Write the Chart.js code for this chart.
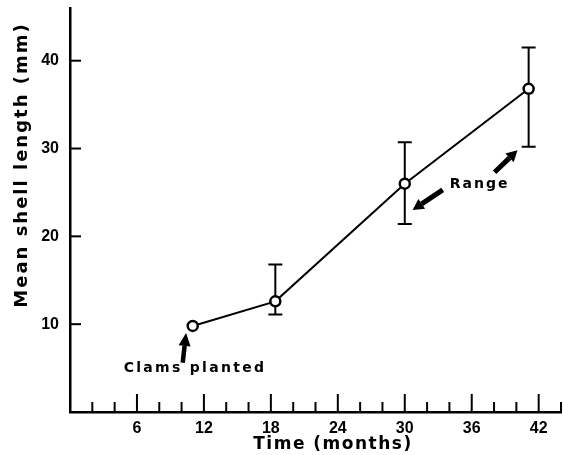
<!DOCTYPE html>
<html>
<head>
<meta charset="utf-8">
<script src="https://cdn.jsdelivr.net/npm/chart.js@4.4.0/dist/chart.umd.min.js"></script>
<style>
  html, body { margin: 0; padding: 0; background: #fff; }
  #wrap { width: 564px; height: 455px; position: relative; }
</style>
</head>
<body>
<div id="wrap"><canvas id="c"></canvas></div>
<script>
// ---- data ----
const months     = [11, 18.4, 30, 41.1];
const meanLength = [9.8, 12.6, 26.0, 36.8];
const rangeHigh  = [null, 16.8, 30.7, 41.5];
const rangeLow   = [null, 11.1, 21.4, 30.2];
const xTickLabels = [6, 12, 18, 24, 30, 36, 42];
const yTickLabels = [10, 20, 30, 40];
const xTitle = 'Time (months)';
const yTitle = 'Mean shell length (mm)';
const noteClams = 'Clams planted';
const noteRange = 'Range';

const FONT = '"Liberation Sans", Arial, Helvetica, sans-serif';
const HEAVY = '"DejaVu Sans", "Liberation Sans", sans-serif';

const points = months.map((m, i) => ({ x: m, y: meanLength[i] }));

function arrow(ctx, x1, y1, x2, y2, shaftW, headW, headL) {
  const ang = Math.atan2(y2 - y1, x2 - x1);
  const bx = x2 - headL * Math.cos(ang), by = y2 - headL * Math.sin(ang);
  ctx.save();
  ctx.strokeStyle = '#000'; ctx.fillStyle = '#000';
  ctx.lineWidth = shaftW; ctx.lineCap = 'butt';
  ctx.beginPath(); ctx.moveTo(x1, y1); ctx.lineTo(bx, by); ctx.stroke();
  const px = -Math.sin(ang) * headW / 2, py = Math.cos(ang) * headW / 2;
  ctx.beginPath();
  ctx.moveTo(x2, y2); ctx.lineTo(bx + px, by + py); ctx.lineTo(bx - px, by - py);
  ctx.closePath(); ctx.fill();
  ctx.restore();
}

const decorPlugin = {
  id: 'decor',
  beforeDatasetsDraw(chart) {
    const ctx = chart.ctx, xs = chart.scales.x, ys = chart.scales.y;
    ctx.save();
    ctx.strokeStyle = '#000'; ctx.lineWidth = 2;
    months.forEach((m, i) => {
      if (rangeHigh[i] == null) return;
      const px = xs.getPixelForValue(m);
      const yt = ys.getPixelForValue(rangeHigh[i]);
      const yb = ys.getPixelForValue(rangeLow[i]);
      ctx.beginPath();
      ctx.moveTo(px, yt); ctx.lineTo(px, yb);
      ctx.moveTo(px - 7, yt); ctx.lineTo(px + 7, yt);
      ctx.moveTo(px - 7, yb); ctx.lineTo(px + 7, yb);
      ctx.stroke();
    });
    ctx.restore();
  },
  afterDraw(chart) {
    const ctx = chart.ctx, xs = chart.scales.x, ys = chart.scales.y;
    const area = chart.chartArea;
    ctx.save();
    // inward tick marks
    ctx.strokeStyle = '#000'; ctx.lineWidth = 2;
    xs.ticks.forEach(t => {
      if (t.value <= 0) return;
      const px = xs.getPixelForValue(t.value);
      const len = (t.value % 6 === 0) ? 18 : 10;
      ctx.beginPath(); ctx.moveTo(px, area.bottom); ctx.lineTo(px, area.bottom - len); ctx.stroke();
    });
    ys.ticks.forEach(t => {
      if (t.value <= 0) return;
      const py = ys.getPixelForValue(t.value);
      ctx.beginPath(); ctx.moveTo(area.left, py); ctx.lineTo(area.left + 11, py); ctx.stroke();
    });

    // axis titles
    ctx.fillStyle = '#000';
    ctx.textAlign = 'center'; ctx.textBaseline = 'middle';
    ctx.font = 'bold 17px ' + HEAVY;
    ctx.letterSpacing = '1.5px';
    ctx.fillText(xTitle, 333, 445);
    ctx.save();
    ctx.translate(22, 165);
    ctx.rotate(-Math.PI / 2);
    ctx.font = 'bold 18px ' + HEAVY;
    ctx.letterSpacing = '2px';
    ctx.fillText(yTitle, 0, 0);
    ctx.restore();

    // annotations
    ctx.font = 'bold 14px ' + HEAVY;
    ctx.letterSpacing = '2.3px';
    ctx.fillText(noteClams, xs.getPixelForValue(11.2), ys.getPixelForValue(5.0));
    ctx.letterSpacing = '2px';
    ctx.fillText(noteRange, xs.getPixelForValue(36.7), ys.getPixelForValue(25.9));
    ctx.letterSpacing = '0px';
    arrow(ctx, xs.getPixelForValue(10.1), ys.getPixelForValue(5.6),
               xs.getPixelForValue(10.4), ys.getPixelForValue(9.0), 4.5, 12, 13);
    arrow(ctx, xs.getPixelForValue(33.4), ys.getPixelForValue(25.3),
               xs.getPixelForValue(30.7), ys.getPixelForValue(23.0), 5, 12, 11);
    arrow(ctx, xs.getPixelForValue(38.05), ys.getPixelForValue(27.3),
               xs.getPixelForValue(40.1), ys.getPixelForValue(29.8), 5, 12, 11);
    ctx.restore();
  }
};

function zeroPad(s) { s.paddingTop = 0; s.paddingBottom = 0; s.paddingLeft = 0; s.paddingRight = 0; }

new Chart(document.getElementById('c'), {
  type: 'scatter',
  data: {
    datasets: [{
      data: points,
      showLine: true,
      borderColor: '#000',
      borderWidth: 2,
      pointRadius: 5,
      pointBorderWidth: 2.5,
      pointBackgroundColor: '#fff',
      pointBorderColor: '#000',
      tension: 0
    }]
  },
  options: {
    responsive: true,
    maintainAspectRatio: false,
    animation: false,
    events: [],
    layout: { autoPadding: false, padding: { top: 8, right: 3, left: 0, bottom: 0 } },
    plugins: { legend: { display: false }, tooltip: { enabled: false } },
    scales: {
      x: {
        type: 'linear', min: 0, max: 44,
        afterFit(s) { s.height = 43; zeroPad(s); },
        grid: { display: false, drawTicks: false, tickLength: 0 },
        border: { display: true, color: '#000', width: 2.5 },
        ticks: {
          stepSize: 2, includeBounds: false, autoSkip: false, maxRotation: 0,
          padding: 7, color: '#000',
          font: { family: FONT, size: 16, weight: 'bold' },
          callback: v => xTickLabels.includes(v) ? String(v) : ''
        }
      },
      y: {
        type: 'linear', min: 0, max: 46,
        afterFit(s) { s.width = 70; zeroPad(s); },
        grid: { display: false, drawTicks: false, tickLength: 0 },
        border: { display: true, color: '#000', width: 2.5 },
        ticks: {
          stepSize: 10, includeBounds: false, autoSkip: false,
          padding: 11, color: '#000',
          font: { family: FONT, size: 16, weight: 'bold' },
          callback: v => yTickLabels.includes(v) ? String(v) : ''
        }
      }
    }
  },
  plugins: [decorPlugin]
});
</script>
</body>
</html>
